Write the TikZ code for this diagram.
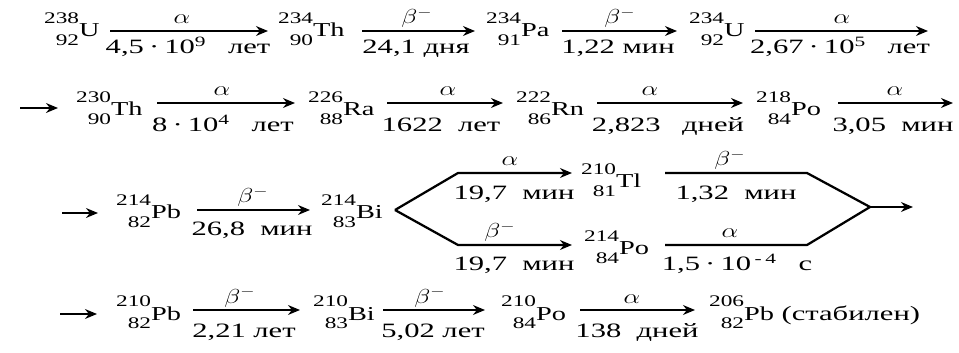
\documentclass[tikz,border=0pt]{standalone}
\usepackage{fontspec}
\setmainfont{Liberation Serif}
\usetikzlibrary{arrows.meta}
\newcommand\ws[1]{\scalebox{1.5}[1]{#1}}
\newcommand\nuc[3]{\scalebox{1.44}[1]{\raisebox{-5.7pt}{\fontsize{11.5}{15.6}\selectfont\begin{tabular}[b]{@{}r@{}}#1\\#2\end{tabular}}{\fontsize{14}{16}\selectfont#3}}}
\newcommand\al{\scalebox{1.3}[1]{$\alpha$}}
\newcommand\bt{\scalebox{1.3}[1]{$\beta^{-}$}}

\begin{document}
\begin{tikzpicture}[x=0.025cm, y=-0.025cm, >={Stealth[length=8.5pt,width=7pt]},
	line width=1.6pt, line join=round, font=\fontsize{14.5}{16}\selectfont,
	nuc/.style={anchor=base west, inner sep=0pt},
	up/.style={anchor=base, inner sep=0pt},
	dn/.style={anchor=base, inner sep=0pt}]
	\useasboundingbox (0,0) rectangle (959,353);
	\def\ya{31}  %ред 1
	\def\yb{103} %ред 2
	\def\yc{210} %ред 3
	\def\yd{310} %ред 4
	% ред 1
	\node[nuc] (U238) at (43,\ya+6) {\nuc{238}{92}{U}};
	\node[nuc] (Th234) at (277,\ya+6) {\nuc{234}{90}{Th}};
	\node[nuc] (Pa234) at (485,\ya+6) {\nuc{234}{91}{Pa}};
	\node[nuc] (U234) at (688,\ya+6) {\nuc{234}{92}{U}};
	\coordinate (a1) at (110,\ya); \coordinate (b1) at (268,\ya);
	\coordinate (a2) at (362,\ya); \coordinate (b2) at (475,\ya);
	\coordinate (a3) at (562,\ya); \coordinate (b3) at (677,\ya);
	\coordinate (a4) at (755,\ya); \coordinate (b4) at (928,\ya);
	\draw[->] (a1) -- (b1);
	\draw[->] (a2) -- (b2);
	\draw[->] (a3) -- (b3);
	\draw[->] (a4) -- (b4);
	\node[up] (t1) at (182,\ya-7) {\al};
	\node[dn] (d1) at (188,\ya+23) {\ws{4,5\,·\,10\textsuperscript{9}\hspace{0.7em}лет}};
	\node[up] (t2) at (417,\ya-7) {\bt};
	\node[dn] (d2) at (416,\ya+23) {\ws{24,1 дня}};
	\node[up] (t3) at (620,\ya-7) {\bt};
	\node[dn] (d3) at (618,\ya+23) {\ws{1,22 мин}};
	\node[up] (t4) at (842,\ya-7) {\al};
	\node[dn] (d4) at (840,\ya+23) {\ws{2,67\,·\,10\textsuperscript{5}\hspace{0.7em}лет}};
	% ред 2
	\coordinate (e2) at (20,\yb+5); \coordinate (f2) at (58,\yb+5);
	\draw[->] (e2) -- (f2);
	\node[nuc] (Th230) at (75,\yb+13) {\nuc{230}{90}{Th}};
	\node[nuc] (Ra226) at (307,\yb+13) {\nuc{226}{88}{Ra}};
	\node[nuc] (Rn222) at (515,\yb+13) {\nuc{222}{86}{Rn}};
	\node[nuc] (Po218) at (755,\yb+13) {\nuc{218}{84}{Po}};
	\coordinate (a5) at (157,\yb); \coordinate (b5) at (295,\yb);
	\coordinate (a6) at (387,\yb); \coordinate (b6) at (503,\yb);
	\coordinate (a7) at (597,\yb); \coordinate (b7) at (743,\yb);
	\coordinate (a8) at (838,\yb); \coordinate (b8) at (953,\yb);
	\draw[->] (a5) -- (b5);
	\draw[->] (a6) -- (b6);
	\draw[->] (a7) -- (b7);
	\draw[->] (a8) -- (b8);
	\node[up] (t5) at (222,\yb-7) {\al};
	\node[dn] (d5) at (223,\yb+29) {\ws{8\,·\,10\textsuperscript{4}\hspace{0.7em}лет}};
	\node[up] (t6) at (448,\yb-7) {\al};
	\node[dn] (d6) at (441,\yb+29) {\ws{1622\enspace лет}};
	\node[up] (t7) at (650,\yb-7) {\al};
	\node[dn] (d7) at (668,\yb+29) {\ws{2,823\hspace{0.7em}дней}};
	\node[up] (t8) at (895,\yb-7) {\al};
	\node[dn] (d8) at (893,\yb+29) {\ws{3,05\enspace мин}};
	% ред 3
	\coordinate (e3) at (62,\yc+3); \coordinate (f3) at (98,\yc+3);
	\draw[->] (e3) -- (f3);
	\node[nuc] (Pb214) at (115,\yc+9) {\nuc{214}{82}{Pb}};
	\node[nuc] (Bi214) at (320,\yc+9) {\nuc{214}{83}{Bi}};
	\coordinate (a9) at (197,\yc); \coordinate (b9) at (310,\yc);
	\draw[->] (a9) -- (b9);
	\node[up] (t9) at (253,\yc-7) {\bt};
	\node[dn] (d9) at (252,\yc+26) {\ws{26,8\enspace мин}};
	\coordinate (V) at (395,\yc);
	\coordinate (P) at (458,\yc-37); \coordinate (Q) at (572,\yc-37);
	\coordinate (R) at (458,\yc+35); \coordinate (S) at (572,\yc+35);
	\draw[->] (V) -- (P) -- (Q);
	\draw[->] (V) -- (R) -- (S);
	\node[up] (t10) at (510,\yc-44) {\al};
	\node[dn] (d10) at (514,\yc-10) {\ws{19,7\enspace мин}};
	\node[up] (t11) at (500,\yc+28) {\bt};
	\node[dn] (d11) at (514,\yc+61) {\ws{19,7\enspace мин}};
	\node[nuc] (Tl210) at (580,\yc-22) {\nuc{210}{81}{Tl}};
	\node[nuc] (Po214) at (583,\yc+45) {\nuc{214}{84}{Po}};
	\coordinate (P2) at (665,\yc-37); \coordinate (Q2) at (807,\yc-37);
	\coordinate (R2) at (665,\yc+35); \coordinate (S2) at (807,\yc+35);
	\coordinate (W) at (870,\yc-3); \coordinate (Z) at (913,\yc-3);
	\draw (P2) -- (Q2) -- (W) -- (S2) -- (R2);
	\draw[->] (W) -- (Z);
	\node[up] (t12) at (730,\yc-44) {\bt};
	\node[dn] (d12) at (736,\yc-10) {\ws{1,32\enspace мин}};
	\node[up] (t13) at (730,\yc+28) {\al};
	\node[dn] (d13) at (737,\yc+61) {\ws{1,5\,·\,10\textsuperscript{\,-\,4}\hspace{0.7em}с}};
	% ред 4
	\coordinate (e4) at (60,\yd+4); \coordinate (f4) at (97,\yd+4);
	\draw[->] (e4) -- (f4);
	\node[nuc] (Pb210) at (115,\yd+10) {\nuc{210}{82}{Pb}};
	\node[nuc] (Bi210) at (312,\yd+10) {\nuc{210}{83}{Bi}};
	\node[nuc] (Po210) at (500,\yd+10) {\nuc{210}{84}{Po}};
	\node[nuc] (Pb206) at (708,\yd+10) {\nuc{206}{82}{Pb}\ws{ (стабилен)}};
	\coordinate (a14) at (193,\yd); \coordinate (b14) at (300,\yd);
	\coordinate (a15) at (383,\yd); \coordinate (b15) at (485,\yd);
	\coordinate (a16) at (580,\yd); \coordinate (b16) at (695,\yd);
	\draw[->] (a14) -- (b14);
	\draw[->] (a15) -- (b15);
	\draw[->] (a16) -- (b16);
	\node[up] (t14) at (240,\yd-7) {\bt};
	\node[dn] (d14) at (244,\yd+27) {\ws{2,21 лет}};
	\node[up] (t15) at (430,\yd-7) {\bt};
	\node[dn] (d15) at (433,\yd+27) {\ws{5,02 лет}};
	\node[up] (t16) at (632,\yd-7) {\al};
	\node[dn] (d16) at (637,\yd+27) {\ws{138\enspace дней}};
\end{tikzpicture}
\end{document}
